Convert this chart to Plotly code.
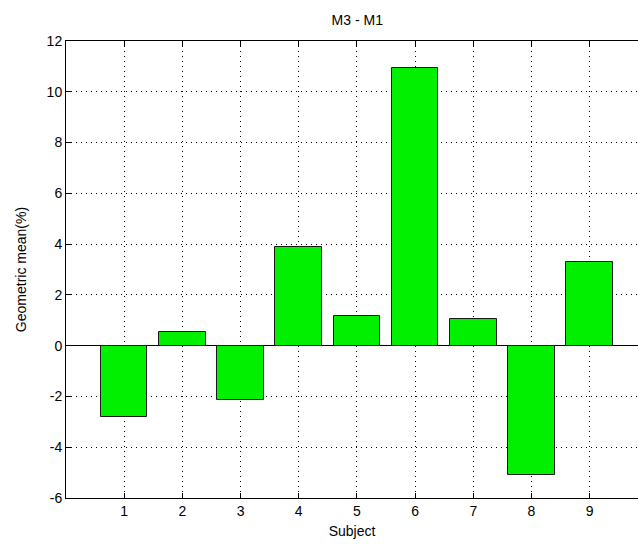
import plotly.graph_objects as go

subjects = [1, 2, 3, 4, 5, 6, 7, 8, 9]
values = [-2.8, 0.52, -2.15, 3.88, 1.17, 10.94, 1.05, -5.09, 3.29]
x_ticks = [1, 2, 3, 4, 5, 6, 7, 8, 9]
y_ticks = [-6, -4, -2, 0, 2, 4, 6, 8, 10, 12]

fig = go.Figure()
fig.add_trace(go.Bar(
    x=subjects, y=values, width=0.8,
    marker=dict(color="#00f000", line=dict(color="#1a1a1a", width=1)),
))

font = dict(family="Liberation Sans, Arial, sans-serif", size=14, color="black")
fig.update_layout(
    width=638, height=544,
    margin=dict(l=66, r=0, t=41, b=46),
    paper_bgcolor="white", plot_bgcolor="white",
    font=font, showlegend=False, bargap=0,
    title=dict(text="M3 - M1", x=0.56, xanchor="center", y=1 - 20 / 544, yanchor="middle",
               font=dict(size=14, color="black")),
)
fig.update_xaxes(
    range=[0, 9.83], tickvals=x_ticks, ticktext=[str(v) for v in x_ticks],
    showgrid=True, gridcolor="black", griddash="1px,4px", gridwidth=1,
    showline=True, linecolor="black", linewidth=1, mirror="ticks",
    ticks="inside", ticklen=5, tickcolor="black",
    zeroline=False,
    title=dict(text="Subject", standoff=8, font=dict(size=14)),
)
fig.update_yaxes(
    range=[-6, 12], tickvals=y_ticks, ticktext=[str(v) for v in y_ticks],
    showgrid=True, gridcolor="black", griddash="1px,4px", gridwidth=1,
    showline=True, linecolor="black", linewidth=1,
    ticks="inside", ticklen=5, tickcolor="black",
    zeroline=True, zerolinecolor="black", zerolinewidth=1,
    title=dict(text="Geometric mean(%)", standoff=16, font=dict(size=14)),
)

fig.write_html("out.html")
